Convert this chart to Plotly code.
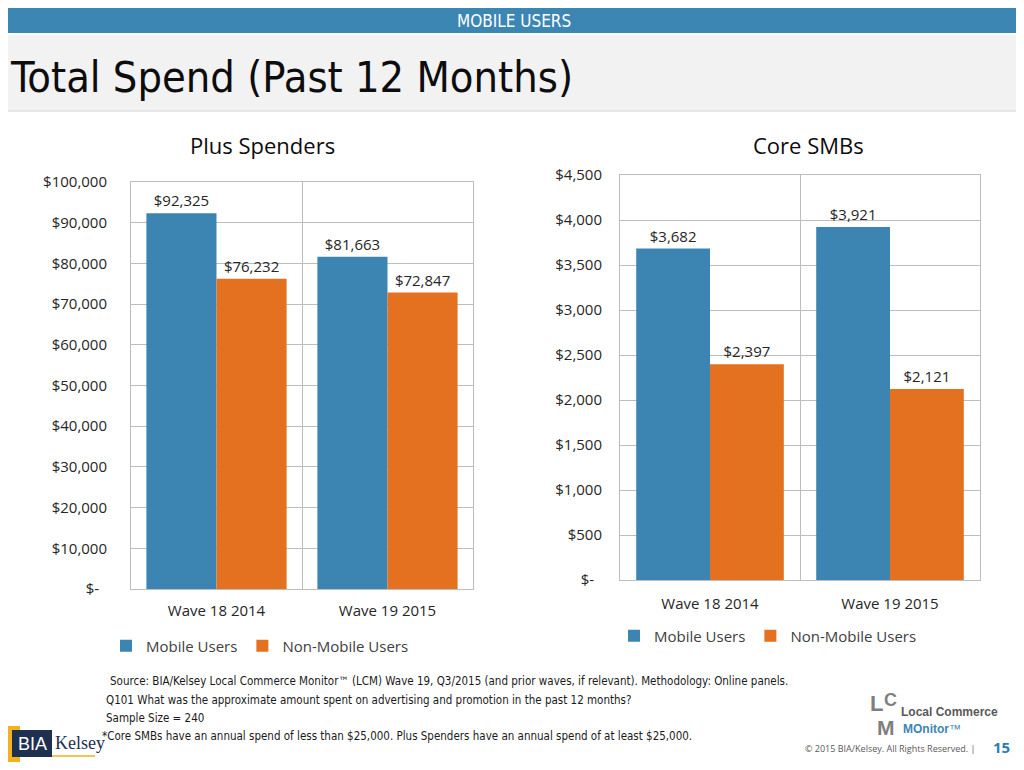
import plotly.graph_objects as go

# The page body has an 8px default margin, so the figure is sized to fill the
# remaining window and reference pixel positions are converted with that offset.
OFF = 8
W, H = 1024 - OFF, 770 - OFF

categories = ["Wave 18 2014", "Wave 19 2015"]
series_names = ["Mobile Users", "Non-Mobile Users"]
plus_mobile = [92325, 81663]
plus_nonmobile = [76232, 72847]
core_mobile = [3682, 3921]
core_nonmobile = [2397, 2121]

plus_tickvals = [0, 10000, 20000, 30000, 40000, 50000, 60000, 70000, 80000, 90000, 100000]
plus_ticktext = ["$-\u00a0\u00a0", "$10,000", "$20,000", "$30,000", "$40,000", "$50,000",
                 "$60,000", "$70,000", "$80,000", "$90,000", "$100,000"]
core_tickvals = [0, 500, 1000, 1500, 2000, 2500, 3000, 3500, 4000, 4500]
core_ticktext = ["$-\u00a0\u00a0", "$500", "$1,000", "$1,500", "$2,000", "$2,500",
                 "$3,000", "$3,500", "$4,000", "$4,500"]

BLUE = "#3C85B3"
ORANGE = "#E3711F"
GRID = "#BDBDBD"
TXT = "#262626"
FONT = "Open Sans"
NARROW = "DejaVu Sans Condensed, Roboto, sans-serif"


def px_x(x):
    return (x - OFF) / W


def px_y(y):
    return 1 - (y - OFF) / H


fig = go.Figure()

label_font = dict(family=FONT, size=15, color=TXT)
for name, vals, color, xa, ya, lg in [
    (series_names[0], plus_mobile, BLUE, "x", "y", "legend"),
    (series_names[1], plus_nonmobile, ORANGE, "x", "y", "legend"),
    (series_names[0], core_mobile, BLUE, "x2", "y2", "legend2"),
    (series_names[1], core_nonmobile, ORANGE, "x2", "y2", "legend2"),
]:
    fig.add_trace(go.Bar(
        x=categories, y=vals, name=name, marker=dict(color=color, line=dict(width=0)),
        xaxis=xa, yaxis=ya, legend=lg,
        texttemplate="$%{y:,.0f}", textposition="outside", textfont=label_font,
        cliponaxis=False, constraintext="none", hoverinfo="skip",
    ))

axis_common = dict(showline=True, mirror=True, linecolor=GRID, linewidth=1,
                   showgrid=True, gridcolor=GRID, gridwidth=1, zeroline=False, automargin=False,
                   ticks="", tickfont=dict(family=FONT, size=15, color=TXT), fixedrange=True)

fig.update_layout(
    template="none",
    width=W, height=H, margin=dict(l=0, r=0, t=0, b=0, pad=0), autosize=False,
    paper_bgcolor="white", plot_bgcolor="white",
    barmode="group", bargroupgap=0, bargap=0.18,
    showlegend=True,
    xaxis=dict(domain=[px_x(131), px_x(473)], anchor="y", type="category",
               tickson="boundaries", ticklabelstandoff=8, **axis_common),
    yaxis=dict(domain=[px_y(589), px_y(182)], anchor="x", range=[0, 100000],
               tickvals=plus_tickvals, ticktext=plus_ticktext, ticklabelstandoff=20, **axis_common),
    xaxis2=dict(domain=[px_x(620), px_x(980)], anchor="y2", type="category",
                tickson="boundaries", ticklabelstandoff=10, **axis_common),
    yaxis2=dict(domain=[px_y(580), px_y(175)], anchor="x2", range=[0, 4500],
                tickvals=core_tickvals, ticktext=core_ticktext, ticklabelstandoff=14, **axis_common),
    legend=dict(orientation="h", x=px_x(106), y=px_y(646), xanchor="left", yanchor="middle",
                font=dict(family=FONT, size=15, color="#404040"), bgcolor="rgba(0,0,0,0)",
                itemclick=False, itemdoubleclick=False),
    legend2=dict(orientation="h", x=px_x(614), y=px_y(636), xanchor="left", yanchor="middle",
                 font=dict(family=FONT, size=15, color="#404040"), bgcolor="rgba(0,0,0,0)",
                 itemclick=False, itemdoubleclick=False),
)

shapes = [
    # header bar
    dict(type="rect", xref="paper", yref="paper", x0=0, x1=1, y0=px_y(33), y1=1,
         fillcolor="#3B86B3", line=dict(width=0), layer="below"),
    # title band
    dict(type="rect", xref="paper", yref="paper", x0=0, x1=1, y0=px_y(111), y1=px_y(35),
         fillcolor="#F2F2F2", line=dict(width=0), layer="below"),
    dict(type="line", xref="paper", yref="paper", x0=0, x1=1, y0=px_y(111), y1=px_y(111),
         line=dict(color="#E0E0E0", width=1.5)),
    # BIA Kelsey logo
    dict(type="rect", xref="paper", yref="paper", x0=px_x(8), x1=px_x(20), y0=px_y(762), y1=px_y(726),
         fillcolor="#F2B21B", line=dict(width=0)),
    dict(type="rect", xref="paper", yref="paper", x0=px_x(12), x1=px_x(52), y0=px_y(757), y1=px_y(730),
         fillcolor="#1F2F4F", line=dict(width=0)),
    dict(type="line", xref="paper", yref="paper", x0=px_x(52), x1=px_x(95), y0=px_y(756), y1=px_y(756),
         line=dict(color="#F2B21B", width=1.5)),
]

annotations = [
    dict(text="MOBILE USERS", x=px_x(514), y=px_y(21), xref="paper", yref="paper", showarrow=False,
         xanchor="center", yanchor="middle", font=dict(family=NARROW, size=17, color="white")),
    dict(text="Total Spend (Past 12 Months)", x=px_x(8), y=px_y(77), xref="paper", yref="paper",
         showarrow=False, xanchor="left", yanchor="middle",
         font=dict(family=NARROW, size=43, color="#0D0D0D")),
    dict(text="Plus Spenders", x=px_x(262), y=px_y(145), xref="paper", yref="paper", showarrow=False,
         xanchor="center", yanchor="middle", font=dict(family=FONT, size=22, color="#0D0D0D")),
    dict(text="Core SMBs", x=px_x(808), y=px_y(145), xref="paper", yref="paper", showarrow=False,
         xanchor="center", yanchor="middle", font=dict(family=FONT, size=22, color="#0D0D0D")),
]

foot_font = dict(family=NARROW, size=11.5, color="#1A1A1A")
footer_lines = [
    (108, 681, "Source: BIA/Kelsey Local Commerce Monitor™ (LCM) Wave 19, Q3/2015 (and prior waves, if relevant). Methodology: Online panels."),
    (104, 700, "Q101 What was the approximate amount spent on advertising and promotion in the past 12 months?"),
    (104, 718, "Sample Size = 240"),
    (100, 736, "*Core SMBs have an annual spend of less than $25,000. Plus Spenders have an annual spend of at least $25,000."),
]
for x, y, t in footer_lines:
    annotations.append(dict(text=t, x=px_x(x), y=px_y(y), xref="paper", yref="paper", showarrow=False,
                            xanchor="left", yanchor="middle", font=foot_font))

annotations += [
    dict(text="BIA", x=px_x(32), y=px_y(744), xref="paper", yref="paper", showarrow=False,
         xanchor="center", yanchor="middle", font=dict(family="Liberation Sans", size=18, color="white")),
    dict(text="Kelsey", x=px_x(53), y=px_y(743), xref="paper", yref="paper", showarrow=False,
         xanchor="left", yanchor="middle", font=dict(family="Liberation Serif", size=18, color="#1F2F4F")),
    dict(text="© 2015 BIA/Kelsey. All Rights Reserved. |", x=px_x(977), y=px_y(748), xref="paper",
         yref="paper", showarrow=False, xanchor="right", yanchor="middle",
         font=dict(family=FONT, size=9, color="#595959")),
    dict(text="<b>15</b>", x=px_x(1001), y=px_y(747), xref="paper", yref="paper", showarrow=False,
         xanchor="center", yanchor="middle", font=dict(family=FONT, size=15, color="#2F7DB0")),
    # LCM logo
    dict(text="<b>L</b>", x=px_x(876), y=px_y(703), xref="paper", yref="paper", showarrow=False,
         xanchor="center", yanchor="middle", font=dict(family="Liberation Sans", size=22, color="#7F7F7F")),
    dict(text="<b>C</b>", x=px_x(890), y=px_y(700), xref="paper", yref="paper", showarrow=False,
         xanchor="center", yanchor="middle", font=dict(family="Liberation Sans", size=18, color="#7F7F7F")),
    dict(text="<b>M</b>", x=px_x(886), y=px_y(727), xref="paper", yref="paper", showarrow=False,
         xanchor="center", yanchor="middle", font=dict(family="Liberation Sans", size=21, color="#7F7F7F")),
    dict(text="<b>Local Commerce</b>", x=px_x(899), y=px_y(712), xref="paper", yref="paper",
         showarrow=False, xanchor="left", yanchor="middle",
         font=dict(family="Liberation Sans", size=12, color="#595959")),
    dict(text="<b>MOnitor</b>™", x=px_x(901), y=px_y(729), xref="paper", yref="paper",
         showarrow=False, xanchor="left", yanchor="middle",
         font=dict(family="Liberation Sans", size=12, color="#3C85B3")),
]

fig.update_layout(shapes=shapes, annotations=annotations)

fig.write_html("out.html")
